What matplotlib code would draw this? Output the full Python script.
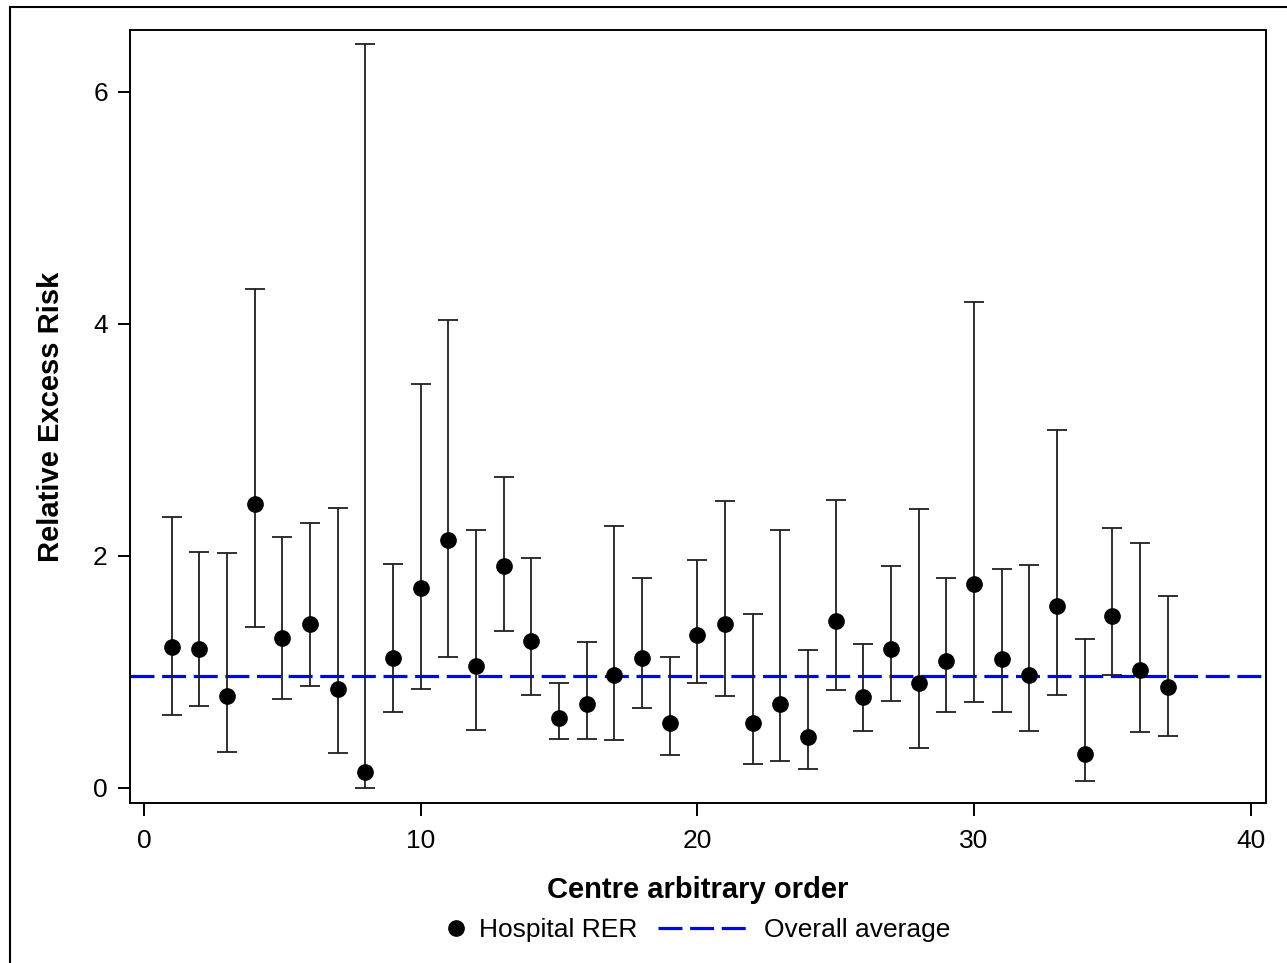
import matplotlib.pyplot as plt
from matplotlib.patches import Rectangle
from matplotlib.lines import Line2D

plt.rcParams['font.family'] = ['Liberation Sans', 'DejaVu Sans']

centre = list(range(1, 38))
rer = [1.21, 1.20, 0.79, 2.45, 1.29, 1.41, 0.85, 0.14, 1.12, 1.72,
       2.14, 1.05, 1.91, 1.27, 0.60, 0.72, 0.97, 1.12, 0.56, 1.32,
       1.41, 0.56, 0.72, 0.44, 1.44, 0.78, 1.20, 0.90, 1.09, 1.76,
       1.11, 0.97, 1.57, 0.29, 1.48, 1.02, 0.87]
upper = [2.33, 2.03, 2.02, 4.30, 2.16, 2.28, 2.41, 6.41, 1.93, 3.48,
         4.03, 2.22, 2.68, 1.98, 0.90, 1.26, 2.26, 1.81, 1.13, 1.96,
         2.47, 1.50, 2.22, 1.19, 2.48, 1.24, 1.91, 2.40, 1.81, 4.19,
         1.89, 1.92, 3.08, 1.28, 2.24, 2.11, 1.65]
lower = [0.63, 0.71, 0.31, 1.39, 0.77, 0.88, 0.30, 0.00, 0.65, 0.85,
         1.13, 0.50, 1.35, 0.80, 0.42, 0.42, 0.41, 0.69, 0.28, 0.90,
         0.79, 0.21, 0.23, 0.16, 0.84, 0.49, 0.75, 0.34, 0.65, 0.74,
         0.65, 0.49, 0.80, 0.06, 0.97, 0.48, 0.45]
overall = 0.96

W, H = 1287, 963
fig = plt.figure(figsize=(W / 100, H / 100), dpi=100)
ax = fig.add_axes([130 / W, 1 - 803 / H, (1266 - 130) / W, (803 - 30) / H])

yerr = [[r - l for r, l in zip(rer, lower)], [u - r for r, u in zip(rer, upper)]]
ax.errorbar(centre, rer, yerr=yerr, fmt='o', color='black', ms=11,
            ecolor='#202020', elinewidth=1.3, capsize=7, capthick=1.3, zorder=3)
ax.axhline(overall, color='#0000ff', lw=2.3, dashes=(7.5, 2.4), zorder=2)

ax.set_xlim(-0.5, 40.55)
ax.set_ylim(-0.13, 6.53)
ax.set_xticks([0, 10, 20, 30, 40])
ax.set_yticks([0, 2, 4, 6])
ax.tick_params(direction='out', length=9, width=1.4, labelsize=19)
ax.tick_params(axis='x', pad=10)
ax.tick_params(axis='y', pad=7)
for s in ax.spines.values():
    s.set_linewidth(1.4)

ax.set_xlabel('Centre arbitrary order', fontsize=21, fontweight='bold', labelpad=16)
ax.set_ylabel('Relative Excess Risk', fontsize=21, fontweight='bold', labelpad=20)

# legend: two pieces so the marker sits close to its text
h1 = Line2D([], [], marker='o', color='black', ls='none', ms=11)
h2 = Line2D([], [], color='#0000ff', lw=2.3, dashes=(7.5, 2.4))
fig.legend([h1], ['Hospital RER'], loc='center left',
           bbox_to_anchor=(445 / W, 1 - 930 / H), frameon=False,
           fontsize=19, handlelength=0.8, handletextpad=0.5,
           borderpad=0, borderaxespad=0)
fig.legend([h2], ['Overall average'], loc='center left',
           bbox_to_anchor=(658 / W, 1 - 930 / H), frameon=False,
           fontsize=19, handlelength=3.4, handletextpad=0.6,
           borderpad=0, borderaxespad=0)

# outer frame: only left and top edges fall inside the picture
fig.patches.append(Rectangle((10 / W, -0.05), 1.2, 1.05 - 7 / H,
                             transform=fig.transFigure, fill=False,
                             edgecolor='black', lw=1.5))

fig.savefig('out.png', dpi=100)
